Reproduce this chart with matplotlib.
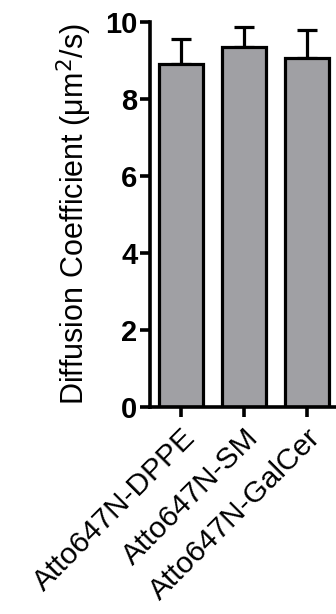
import matplotlib
matplotlib.use("Agg")
import matplotlib.pyplot as plt

# data
labels = ["Atto647N-DPPE", "Atto647N-SM", "Atto647N-GalCer"]
means = [8.92, 9.34, 9.07]
errors = [0.63, 0.52, 0.72]

plt.rcParams["font.family"] = ["Liberation Sans", "DejaVu Sans"]

fig = plt.figure(figsize=(3.36, 6.14), dpi=100)
ax = fig.add_axes([0.446, 0.3376, 0.56, 0.6264])

x = range(len(labels))
ax.bar(x, means, width=0.7, color="#a0a0a4", edgecolor="black", linewidth=2.3,
       zorder=2)
ax.errorbar(x, means, yerr=[[0, 0, 0], errors], fmt="none", ecolor="black",
            elinewidth=2.3, capsize=7.5, capthick=2.3, zorder=1)

ax.set_xlim(-0.5, 2.5)
ax.set_ylim(0, 10)
ax.set_yticks([0, 2, 4, 6, 8, 10])
ax.set_xticks(list(x))
ax.set_xticklabels(labels, rotation=45, ha="right", rotation_mode="anchor",
                   fontsize=21.5)
for t in ax.get_yticklabels():
    t.set_fontweight("bold")
    t.set_fontsize(21)

ax.spines["top"].set_visible(False)
ax.spines["right"].set_visible(False)
ax.spines["left"].set_linewidth(2.6)
ax.spines["bottom"].set_linewidth(2.6)
ax.tick_params(axis="y", width=2.6, length=7, pad=2)
ax.tick_params(axis="x", width=2.6, length=7, pad=5)

ax.set_ylabel("Diffusion Coefficient (\u03bcm$^2$/s)", fontsize=22, labelpad=8)

fig.savefig("out.png", dpi=100)
